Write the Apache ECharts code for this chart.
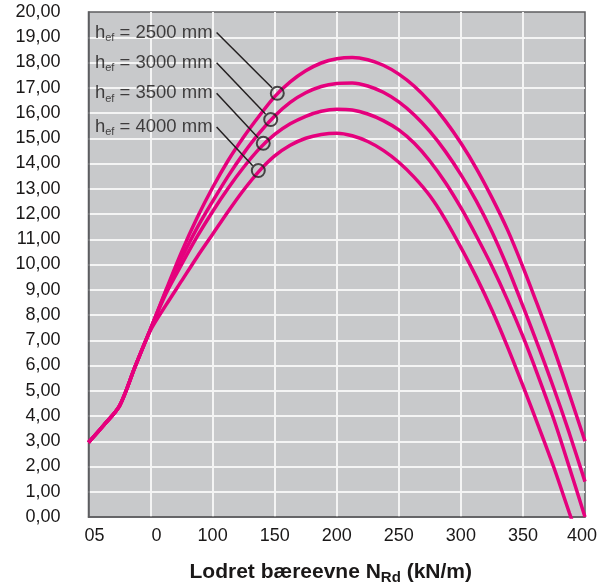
<!DOCTYPE html>
<html>
<head>
<meta charset="utf-8">
<script src="https://cdn.jsdelivr.net/npm/echarts@6/dist/echarts.min.js"></script>
<style>html,body{margin:0;padding:0;background:#fff}#c{width:597px;height:586px}</style>
</head>
<body>
<div id="c"></div>
<script>
// ---- data ----
const xValues = [0, 12.5, 25, 37.5, 50, 62.5, 75, 87.5, 100, 112.5, 125, 137.5, 150, 162.5, 175, 187.5,
  200, 212.5, 225, 237.5, 250, 262.5, 275, 287.5, 300, 312.5, 325, 337.5, 350, 362.5, 375, 387.5, 400];
const y2500 = [2.95, 3.65, 4.4, 5.95, 7.45, 9.0, 10.5, 11.85, 13.05, 14.12, 15.05, 15.88, 16.65, 17.23, 17.67, 17.98,
  18.15, 18.2, 18.11, 17.89, 17.54, 17.06, 16.44, 15.69, 14.81, 13.8, 12.65, 11.38, 9.9, 8.3, 6.65, 4.85, 3.0];
const y3000 = [2.95, 3.65, 4.4, 5.95, 7.45, 8.95, 10.25, 11.45, 12.5, 13.5, 14.4, 15.2, 15.88, 16.42, 16.8, 17.05,
  17.17, 17.19, 17.07, 16.82, 16.44, 15.92, 15.27, 14.48, 13.56, 12.51, 11.3, 9.9, 8.35, 6.75, 5.08, 3.3, 1.4];
const y3500 = [2.95, 3.65, 4.4, 5.95, 7.45, 8.85, 10.0, 11.1, 12.1, 13.02, 13.85, 14.58, 15.15, 15.57, 15.87, 16.07,
  16.15, 16.12, 15.96, 15.7, 15.33, 14.8, 14.1, 13.25, 12.25, 11.13, 9.93, 8.6, 7.15, 5.55, 3.85, 1.95, 0];
const y4000 = [2.95, 3.65, 4.4, 5.95, 7.4, 8.4, 9.35, 10.3, 11.2, 12.1, 12.95, 13.7, 14.3, 14.72, 15.0, 15.15,
  15.2, 15.1, 14.87, 14.52, 14.05, 13.45, 12.72, 11.78, 10.68, 9.5, 8.2, 6.75, 5.2, 3.6, 1.95, 0.15, -1.6];
const seriesNames = ['2500', '3000', '3500', '4000'];

// marker circles on the curves
const markerX = [152.1, 146.8, 140.8, 136.8];
const markerY = [16.78, 15.74, 14.8, 13.72];
// leader lines: start (by the label) and end (at circle edge)
const leaderStartX = [103.2, 103.2, 103.2, 103.2];
const leaderStartY = [19.19, 17.99, 16.78, 15.45];
const leaderEndX = [147.8, 142.6, 136.6, 132.3];
const leaderEndY = [17.0, 15.96, 15.02, 13.91];

const xTickLabels = ['05', '0', '100', '150', '200', '250', '300', '350', '400'];
const yTickLabels = ['0,00','1,00','2,00','3,00','4,00','5,00','6,00','7,00','8,00','9,00','10,00',
  '11,00','12,00','13,00','14,00','15,00','16,00','17,00','18,00','19,00','20,00'];

// ---- chart ----
const TXT = '#1a1818';
const MAG = '#e5007d';
const FONT = '"Liberation Sans", Arial, sans-serif';
const curves = [y2500, y3000, y3500, y4000];

const lineSeries = curves.map((ys, k) => ({
  type: 'line',
  name: seriesNames[k],
  data: xValues.map((x, i) => [x, ys[i]]),
  smooth: 0.3,
  showSymbol: false,
  clip: true,
  lineStyle: { color: MAG, width: 3.5 },
  z: 3
}));

const chart = echarts.init(document.getElementById('c'), null, { renderer: 'canvas' });
chart.setOption({
  animation: false,
  textStyle: { fontFamily: FONT },
  grid: {
    left: 88.5, right: 12, top: 12, bottom: 69,
    containLabel: false,
    outerBoundsMode: 'none',
    show: true, backgroundColor: '#c8c9cb', borderColor: '#5d5e60', borderWidth: 1.5
  },
  xAxis: {
    type: 'value', min: 0, max: 400, interval: 50,
    axisLine: { show: true, lineStyle: { color: '#5d5e60', width: 1.5 } },
    axisTick: { show: false },
    splitLine: { show: true, showMinLine: false, showMaxLine: false, lineStyle: { color: '#f4f4f4', width: 2 } },
    axisLabel: {
      margin: 10, fontSize: 18, color: TXT, fontFamily: FONT,
      formatter: (v) => {
        const i = Math.round(v / 50);
        if (i < 2) return '{s|' + xTickLabels[i] + '}';
        if (i === xTickLabels.length - 1) return '{e|' + xTickLabels[i] + '}';
        return xTickLabels[i];
      },
      rich: {
        s: { padding: [0, 0, 0, 12], fontSize: 18, color: TXT, fontFamily: FONT },
        e: { padding: [0, 6, 0, 0], fontSize: 18, color: TXT, fontFamily: FONT }
      }
    },
    name: '{b|Lodret bæreevne N}{s|Rd}{b| (kN/m)}',
    nameLocation: 'middle',
    nameGap: 42,
    nameTextStyle: {
      padding: [0, 12, 0, 0],
      rich: {
        b: { fontSize: 21, fontWeight: 'bold', color: TXT, fontFamily: FONT, lineHeight: 26 },
        s: { fontSize: 15, fontWeight: 'bold', color: TXT, fontFamily: FONT, lineHeight: 12, verticalAlign: 'bottom' }
      }
    }
  },
  yAxis: {
    type: 'value', min: 0, max: 20, interval: 1,
    axisLine: { show: true, lineStyle: { color: '#5d5e60', width: 1.5 } },
    axisTick: { show: false },
    splitLine: { show: true, showMinLine: false, showMaxLine: false, lineStyle: { color: '#f4f4f4', width: 2 } },
    axisLabel: {
      margin: 28, fontSize: 18, color: TXT, fontFamily: FONT,
      formatter: (v) => yTickLabels[Math.round(v)]
    }
  },
  series: [
    ...lineSeries,
    {
      type: 'lines',
      coordinateSystem: 'cartesian2d',
      data: leaderStartX.map((x, i) => ({ coords: [[x, leaderStartY[i]], [leaderEndX[i], leaderEndY[i]]] })),
      lineStyle: { color: '#231f20', width: 1.5, opacity: 1, curveness: 0 },
      z: 5
    },
    {
      type: 'scatter',
      data: markerX.map((x, i) => [x, markerY[i]]),
      symbol: 'circle',
      symbolSize: 13,
      itemStyle: { color: 'rgba(0,0,0,0)', borderColor: '#231f20', borderWidth: 2 },
      z: 6
    },
    {
      type: 'scatter',
      data: leaderStartX.map((x, i) => ({ value: [x, leaderStartY[i]], name: seriesNames[i] })),
      symbolSize: 0,
      label: {
        show: true, position: 'left', distance: 4,
        formatter: (p) => '{h|h}{s|ef}{h| = ' + p.name + ' mm}',
        rich: {
          h: { fontSize: 18.5, color: TXT, fontFamily: FONT, lineHeight: 22 },
          s: { fontSize: 11, color: TXT, fontFamily: FONT, lineHeight: 10, verticalAlign: 'bottom' }
        }
      },
      z: 6
    }
  ]
});
</script>
</body>
</html>
